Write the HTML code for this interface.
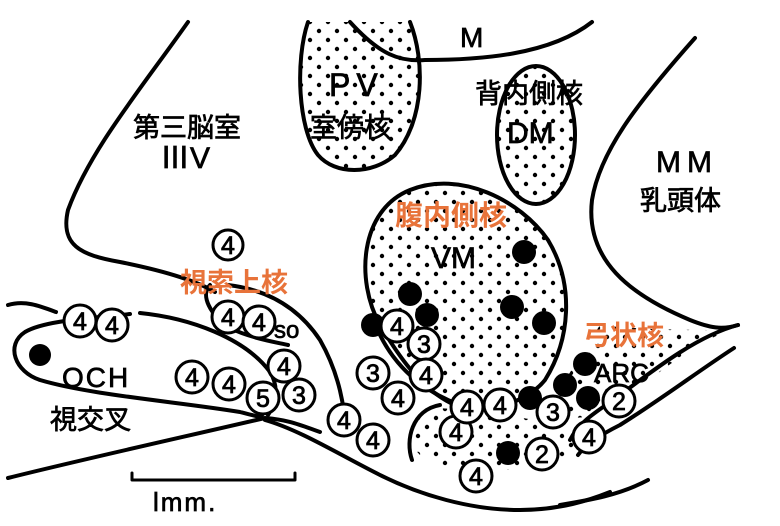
<!DOCTYPE html>
<html><head><meta charset="utf-8">
<style>
html,body{margin:0;padding:0;background:#fff;}
svg{display:block;}
.t{font-family:"Liberation Sans","Noto Sans CJK JP",sans-serif;}
.k{font-family:"Liberation Sans","Noto Sans CJK JP",sans-serif;font-weight:bold;}
.o{fill:#e8733a;}
</style></head><body>
<svg width="780" height="526" viewBox="0 0 780 526" xmlns="http://www.w3.org/2000/svg">
<defs>
<pattern id="d" width="18" height="18" patternUnits="userSpaceOnUse">
<circle cx="4" cy="4" r="2.2" fill="#000"/><circle cx="13" cy="13" r="2.2" fill="#000"/>
</pattern>
</defs>
<g fill="none" stroke="#000" stroke-width="4" stroke-linecap="round" stroke-linejoin="round">
<path d="M308,22 C295,60 298,130 318,155 C335,175 372,175 395,155 C425,120 425,60 410,22" fill="url(#d)"/>
<path d="M350,22 C380,55 400,62 425,60 C480,60 550,55 592,22"/>
<ellipse cx="536" cy="135" rx="39" ry="69" fill="url(#d)"/>
<path d="M380,325 C355,280 360,210 410,190 C460,170 520,200 548,240 C575,285 570,340 545,380 C525,405 480,415 455,405 C420,390 395,350 380,325 Z" fill="url(#d)"/>
<path d="M188,22 C140,90 90,150 68,210 C60,245 80,255 120,262 C160,270 195,280 215,292"/>
<path d="M695,38 C640,100 600,150 592,200 C585,260 630,295 690,320 C710,328 722,330 738,325"/>
<path d="M738,325 C700,335 660,365 620,395 C600,410 580,420 570,440" />
<path d="M734,348 C700,370 660,400 620,425 C600,435 585,445 578,455"/>
<path d="M648,480 C620,495 590,500 560,505"/>
<path d="M600,325 C640,330 690,330 730,330 C690,345 650,380 610,410 C590,420 560,420 545,412 Z" fill="url(#d)" stroke="none"/>
<path d="M425,410 C410,420 405,440 420,455 C440,470 480,470 510,470 C545,470 575,455 585,440 C570,425 540,420 500,415 C470,412 440,405 425,410 Z" fill="url(#d)" stroke="none"/>
<path d="M412,460 C405,440 412,410 440,405"/>
<path d="M8,305 C25,300 40,306 56,312"/>
<path d="M130,314 C95,318 45,320 25,332 C5,345 15,372 40,380 C90,395 180,402 240,412 C255,416 262,418 262,415"/>
<path d="M140,313 C190,318 245,338 270,372 C280,388 275,405 268,415"/>
<path d="M210,285 C200,295 210,315 230,328 C250,338 275,342 288,345"/>
<path d="M228,285 C270,290 300,310 320,340 C340,375 345,410 345,430"/>
<path d="M8,478 C80,460 170,440 265,418 C290,420 300,425 320,432"/>
<path d="M265,420 C300,430 340,455 380,475 C420,495 470,510 520,510 C560,510 590,500 610,492"/>
<path d="M380,335 C395,365 420,390 460,405"/>
<path d="M132,473 L132,480 L295,480 L295,473" stroke-width="3"/>
</g>
<g fill="#000">
<circle cx="40" cy="355" r="11"/>
<circle cx="524" cy="252" r="12"/>
<circle cx="410" cy="294" r="12"/>
<circle cx="427" cy="315" r="12"/>
<circle cx="373" cy="325" r="12"/>
<circle cx="512" cy="307" r="12"/>
<circle cx="544" cy="323" r="12"/>
<circle cx="585" cy="364" r="12"/>
<circle cx="565" cy="385" r="12"/>
<circle cx="530" cy="398" r="12"/>
<circle cx="588" cy="398" r="12"/>
<circle cx="508" cy="453" r="12"/>
</g>
<g fill="#fff" stroke="#000" stroke-width="3">
<circle cx="228" cy="245" r="15"/>
<circle cx="80" cy="321" r="16"/><circle cx="112" cy="325" r="16"/>
<circle cx="228" cy="317" r="16"/><circle cx="259" cy="322" r="16"/>
<circle cx="284" cy="366" r="16"/>
<circle cx="192" cy="377" r="16"/><circle cx="229" cy="384" r="16"/>
<circle cx="263" cy="398" r="16"/><circle cx="299" cy="395" r="16"/>
<circle cx="344" cy="420" r="16"/><circle cx="373" cy="440" r="16"/>
<circle cx="397" cy="326" r="16"/><circle cx="424" cy="344" r="16"/>
<circle cx="426" cy="375" r="16"/><circle cx="373" cy="373" r="16"/>
<circle cx="398" cy="398" r="16"/>
<circle cx="456" cy="432" r="16"/><circle cx="467" cy="407" r="16"/>
<circle cx="500" cy="405" r="16"/><circle cx="553" cy="412" r="16"/>
<circle cx="619" cy="401" r="16"/><circle cx="589" cy="437" r="16"/>
<circle cx="542" cy="454" r="16"/><circle cx="476" cy="476" r="16"/>
</g>
<g class="t" font-size="25" text-anchor="middle" fill="#000" stroke="#000" stroke-width="0.8">
<text x="228" y="254">4</text>
<text x="80" y="330">4</text><text x="112" y="334">4</text>
<text x="228" y="326">4</text><text x="259" y="331">4</text>
<text x="284" y="375">4</text>
<text x="192" y="386">4</text><text x="229" y="393">4</text>
<text x="263" y="407">5</text><text x="299" y="404">3</text>
<text x="344" y="429">4</text><text x="373" y="449">4</text>
<text x="397" y="335">4</text><text x="424" y="353">3</text>
<text x="426" y="384">4</text><text x="373" y="382">3</text>
<text x="398" y="407">4</text>
<text x="456" y="441">4</text><text x="467" y="416">4</text>
<text x="500" y="414">4</text><text x="553" y="421">3</text>
<text x="619" y="410">2</text><text x="589" y="446">4</text>
<text x="542" y="463">2</text><text x="476" y="485">4</text>
</g>
<g class="t" fill="#000" stroke="#000" stroke-width="0.7">
<text x="460" y="47" font-size="28">M</text>
<text x="329" y="96" font-size="32" letter-spacing="6">PV</text>
<text x="310" y="137" font-size="27">室傍核</text>
<text x="475" y="103" font-size="27">背内側核</text>
<text x="507" y="143" font-size="30">DM</text>
<text x="133" y="137" font-size="27">第三脳室</text>
<text x="160" y="168" font-size="30">ⅢV</text>
<text x="656" y="172" font-size="30" letter-spacing="6">MM</text>
<text x="640" y="210" font-size="27">乳頭体</text>
<text x="431" y="268" font-size="30">VM</text>
<text x="274" y="338" font-size="24">so</text>
<text x="594" y="382" font-size="26">ARC</text>
<text x="62" y="387" font-size="28" letter-spacing="2">OCH</text>
<text x="50" y="429" font-size="27">視交叉</text>
<text x="153" y="511" font-size="26" letter-spacing="2">lmm.</text>
</g>
<g class="k o">
<text x="395" y="225" font-size="28">腹内側核</text>
<text x="180" y="292" font-size="27">視索上核</text>
<text x="583" y="345" font-size="27">弓状核</text>
</g>
</svg>
</body></html>
